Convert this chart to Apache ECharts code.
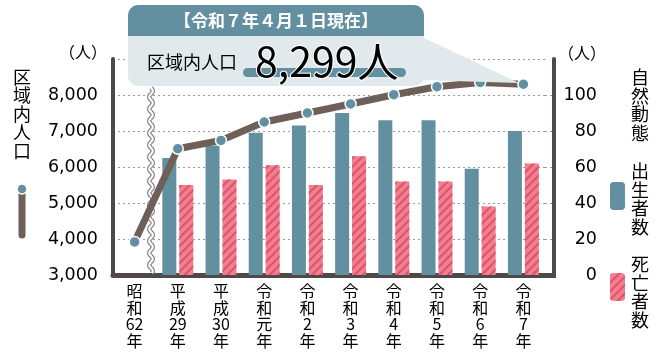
<!DOCTYPE html>
<html><head><meta charset="utf-8">
<script src="https://cdn.jsdelivr.net/npm/echarts@6/dist/echarts.min.js"></script>
<style>html,body{margin:0;padding:0;background:#fff}#c{width:665px;height:358px}</style>
</head><body><div id="c"></div>
<script>
var categories = ['昭和62年','平成29年','平成30年','令和元年','令和2年','令和3年','令和4年','令和5年','令和6年','令和7年'];
var population = [3920, 6508, 6739, 7250, 7500, 7750, 8008, 8231, 8350, 8299];
var births = ['-', 65, 72, 79, 83, 90, 86, 86, 59, 80];
var deaths = ['-', 50, 53, 61, 50, 66, 52, 52, 38, 62];
var popTicks = [3000, 9000, 1000];
var natTicks = [0, 120, 20];

var BLUE = '#6390a0', PINK = '#ef8189', BROWN = '#6e5f58', AXIS = '#4e4948';
var JP = '"Noto Sans CJK JP", "Noto Sans", sans-serif';
var NUM = '"DejaVu Sans", Verdana, sans-serif';

var chart = echarts.init(document.getElementById('c'), null, {renderer: 'canvas'});

function vert(s) { return s.replace(/(\d+|.)/g, '$1\n').replace(/\n$/, ''); }

// wavy break line
var wave = [];
for (var y = 88; y <= 273; y += 1) wave.push([151 + 1.8 * Math.sin((y - 88) / 6 * Math.PI), y]);

var last = population[population.length - 1];
var decal = {symbol: 'rect', color: 'rgba(222,60,115,0.75)', dashArrayX: [1, 0], dashArrayY: [2, 3.5], rotation: -Math.PI / 4, symbolSize: 1};

var option = {
  animation: false,
  grid: {left: 113, right: 120, top: 59, bottom: 83, containLabel: false},
  xAxis: {
    type: 'category', data: categories,
    axisLine: {lineStyle: {color: AXIS, width: 5}},
    axisTick: {show: false},
    axisLabel: {formatter: vert, fontFamily: JP, fontSize: 16, lineHeight: 16.5, color: '#000', margin: 8, interval: 0}
  },
  yAxis: [{
    type: 'value', min: popTicks[0], max: popTicks[1], interval: popTicks[2], position: 'left',
    axisLine: {show: true, lineStyle: {color: AXIS, width: 4}},
    axisTick: {show: false},
    splitLine: {lineStyle: {color: '#9a9a9a', type: [2, 3], width: 1}},
    axisLabel: {showMaxLabel: false, formatter: function (v) { return v.toLocaleString('en-US'); }, fontFamily: NUM, fontSize: 17.5, color: '#000', margin: 15}
  }, {
    type: 'value', min: natTicks[0], max: natTicks[1], interval: natTicks[2], position: 'right', offset: 9,
    axisLine: {show: true, lineStyle: {color: AXIS, width: 4}},
    axisTick: {show: false},
    splitLine: {show: false},
    axisLabel: {showMaxLabel: false, fontFamily: NUM, fontSize: 17.5, color: '#000', align: 'right', margin: 43}
  }],
  legend: {
    orient: 'vertical', left: 610, top: 182, itemWidth: 15, itemHeight: 28, itemGap: 63, padding: 0,
    formatter: function () { return ''; }, selectedMode: false,
    data: ['出生者数', '死亡者数']
  },
  series: [{
    name: '出生者数', type: 'bar', yAxisIndex: 1, data: births, barWidth: 14, barGap: '21%',
    itemStyle: {color: BLUE}
  }, {
    name: '死亡者数', type: 'bar', yAxisIndex: 1, data: deaths, barWidth: 14,
    itemStyle: {color: PINK, decal: decal}
  }, {
    name: '区域内人口', type: 'line', yAxisIndex: 0, data: population, z: 5,
    lineStyle: {color: BROWN, width: 7},
    symbol: 'circle', symbolSize: 11,
    itemStyle: {color: BLUE, borderColor: '#fff', borderWidth: 1.5}
  }],
  graphic: [
    {type: 'polyline', z: 3, shape: {points: wave}, style: {stroke: '#8a8a8a', lineWidth: 4.5, fill: null}},
    {type: 'polyline', z: 3, shape: {points: wave}, style: {stroke: '#fff', lineWidth: 2, fill: null}},
    {type: 'rect', z: 4, shape: {x: 544, y: 273, width: 12, height: 5}, style: {fill: AXIS}},
    // callout
    {type: 'polygon', z: 20, shape: {points: [[420, 36], [420, 80], [519, 83]]}, style: {fill: '#e1e9ec'}},
    {type: 'rect', z: 20, shape: {x: 128, y: 5, width: 296, height: 81, r: 10}, style: {fill: '#e1e9ec'}},
    {type: 'rect', z: 21, shape: {x: 128, y: 5, width: 296, height: 31, r: [10, 10, 0, 0]}, style: {fill: BLUE}},
    {type: 'text', z: 22, x: 276, y: 21, style: {text: '【令和７年４月１日現在】', fill: '#fff', font: 'bold 17px ' + JP, align: 'center', verticalAlign: 'middle'}},
    {type: 'text', z: 22, x: 147, y: 62, style: {text: '区域内人口', fill: '#000', font: '18px ' + JP, align: 'left', verticalAlign: 'middle'}},
    {type: 'rect', z: 22, shape: {x: 243, y: 68, width: 163, height: 9, r: 4.5}, style: {fill: BLUE}},
    {type: 'text', z: 23, x: 255, y: 61, style: {text: last.toLocaleString('en-US') + '人', fill: '#000', font: '41px ' + JP, align: 'left', verticalAlign: 'middle', stroke: '#fff', lineWidth: 2}},
    // units
    {type: 'text', x: 83, y: 52, style: {text: '（人）', fill: '#000', font: '16px ' + JP, align: 'center', verticalAlign: 'middle'}},
    {type: 'text', x: 582, y: 53, style: {text: '（人）', fill: '#000', font: '16px ' + JP, align: 'center', verticalAlign: 'middle'}},
    // left title & icon
    {type: 'text', x: 22, y: 68, style: {text: vert('区域内人口'), fill: '#000', font: '18px ' + JP, lineHeight: 18.4, align: 'center', verticalAlign: 'top'}},
    {type: 'line', shape: {x1: 22, y1: 190, x2: 22, y2: 235}, style: {stroke: BROWN, lineWidth: 7, lineCap: 'round'}},
    {type: 'circle', shape: {cx: 22, cy: 189, r: 5}, style: {fill: BLUE, stroke: '#fff', lineWidth: 1.5}},
    // right titles
    {type: 'text', x: 640, y: 68, style: {text: vert('自然動態'), fill: '#000', font: '18px ' + JP, lineHeight: 18.5, align: 'center', verticalAlign: 'top'}},
    {type: 'text', x: 640, y: 162, style: {text: vert('出生者数'), fill: '#000', font: '18px ' + JP, lineHeight: 18.5, align: 'center', verticalAlign: 'top'}},
    {type: 'text', x: 640, y: 255, style: {text: vert('死亡者数'), fill: '#000', font: '18px ' + JP, lineHeight: 18.5, align: 'center', verticalAlign: 'top'}}
  ]
};
chart.setOption(option);

// extend dotted gridlines up to the right axis
var ext = [];
for (var v = popTicks[0] + popTicks[2]; v < popTicks[1]; v += popTicks[2]) {
  var py = Math.round(chart.convertToPixel({yAxisIndex: 0}, v)) + 0.5;
  ext.push({type: 'line', z: 1, shape: {x1: 545, y1: py, x2: 552, y2: py}, style: {stroke: '#9a9a9a', lineWidth: 1, lineDash: [2, 3]}});
}
chart.setOption({graphic: option.graphic.concat(ext)});
</script>
</body></html>
